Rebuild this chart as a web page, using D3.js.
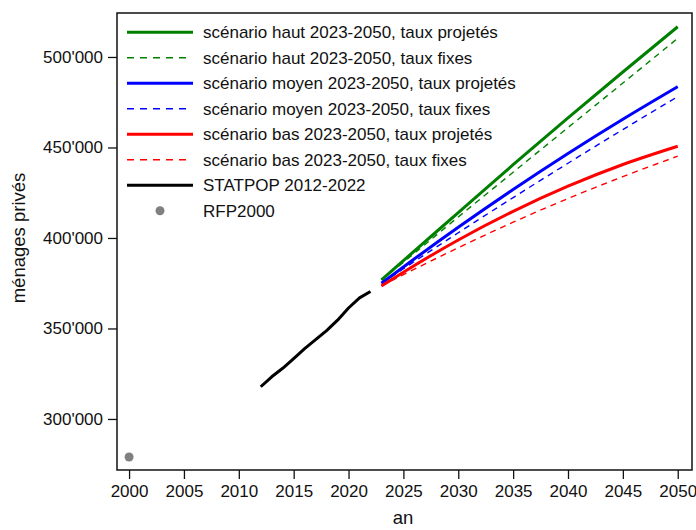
<!DOCTYPE html>
<html lang="fr">
<head>
  <meta charset="UTF-8">
  <title>ménages privés</title>
  <script src="https://d3js.org/d3.v7.min.js"></script>
  <style>
    body { margin: 0; background: #fff; }
    text { font-family: "Liberation Sans", Arial, sans-serif; fill: #111; }
  </style>
</head>
<body>
  <div id="root"></div>
  <script>
    // données
    const statpopYears = [2012, 2013, 2014, 2015, 2016, 2017, 2018, 2019, 2020, 2021, 2022]
    const statpop = [317800, 323300, 328000, 333400, 338900, 343800, 348800, 354600, 361300, 366900, 370400]

    const projYears = [2023, 2025, 2030, 2035, 2040, 2045, 2050]
    const hautProj  = [376800, 387500, 414000, 440500, 466300, 491700, 516700]
    const hautFixe  = [376800, 386600, 411600, 436300, 461000, 485600, 510300]
    const moyenProj = [375000, 384000, 405900, 426800, 446700, 465600, 483600]
    const moyenFixe = [375000, 383000, 402900, 422300, 441300, 459900, 478100]
    const basProj   = [373500, 381100, 398900, 414700, 428600, 440600, 450700]
    const basFixe   = [373500, 379700, 394600, 408700, 421800, 433900, 445200]

    const rfpYear = 2000
    const rfp = 279000

    const xTicks = [2000, 2005, 2010, 2015, 2020, 2025, 2030, 2035, 2040, 2045, 2050]
    const yTicks = [300000, 350000, 400000, 450000, 500000]

    const series = [
      { name: 'scénario haut 2023-2050, taux projetés', values: hautProj, color: '#008000', dash: false },
      { name: 'scénario haut 2023-2050, taux fixes', values: hautFixe, color: '#008000', dash: true },
      { name: 'scénario moyen 2023-2050, taux projetés', values: moyenProj, color: '#0000ff', dash: false },
      { name: 'scénario moyen 2023-2050, taux fixes', values: moyenFixe, color: '#0000ff', dash: true },
      { name: 'scénario bas 2023-2050, taux projetés', values: basProj, color: '#ff0000', dash: false },
      { name: 'scénario bas 2023-2050, taux fixes', values: basFixe, color: '#ff0000', dash: true }
    ]

    const W = 696, H = 530
    const mLeft = 117, mRight = 692, mTop = 13, mBottom = 470

    const svg = d3.select('#root')
      .append('svg')
      .attr('width', W)
      .attr('height', H)

    const x = d3.scaleLinear().domain([1998.9, 2051.3]).range([mLeft, mRight])
    const y = d3.scaleLinear().domain([271800, 524300]).range([mBottom, mTop])

    const fmt = v => d3.format(',')(v).replace(/,/g, "'")

    // axes
    const xAxis = svg.append('g')
      .attr('transform', `translate(0,${mBottom})`)
      .call(d3.axisBottom(x).tickValues(xTicks).tickSize(9).tickPadding(6).tickFormat(d3.format('d')))
    const yAxis = svg.append('g')
      .attr('transform', `translate(${mLeft},0)`)
      .call(d3.axisLeft(y).tickValues(yTicks).tickSize(9).tickPadding(5).tickFormat(fmt))

    ;[xAxis, yAxis].forEach(g => {
      g.select('.domain').remove()
      g.selectAll('line').attr('stroke', '#111').attr('stroke-width', 1.3)
      g.selectAll('text').style('font-size', '17px').attr('fill', '#111')
    })

    // cadre
    svg.append('rect')
      .attr('x', mLeft).attr('y', mTop)
      .attr('width', mRight - mLeft).attr('height', mBottom - mTop)
      .attr('fill', 'none').attr('stroke', '#111').attr('stroke-width', 1.5)

    // titres des axes
    svg.append('text')
      .attr('x', 403).attr('y', 524)
      .attr('text-anchor', 'middle')
      .style('font-size', '18.5px')
      .text('an')
    svg.append('text')
      .attr('transform', 'translate(25,238) rotate(-90)')
      .attr('text-anchor', 'middle')
      .style('font-size', '18.5px')
      .text('ménages privés')

    // courbes
    const smooth = d3.line()
      .x(d => x(d[0]))
      .y(d => y(d[1]))
      .curve(d3.curveMonotoneX)
    const straight = d3.line()
      .x(d => x(d[0]))
      .y(d => y(d[1]))

    svg.append('path')
      .datum(statpopYears.map((yr, i) => [yr, statpop[i]]))
      .attr('d', straight)
      .attr('fill', 'none')
      .attr('stroke', '#000')
      .attr('stroke-width', 3)
      .attr('stroke-linejoin', 'round')

    // fixes d'abord, projetés par-dessus
    const order = [1, 3, 5, 0, 2, 4]
    order.forEach(k => {
      const s = series[k]
      svg.append('path')
        .datum(projYears.map((yr, i) => [yr, s.values[i]]))
        .attr('d', smooth)
        .attr('fill', 'none')
        .attr('stroke', s.color)
        .attr('stroke-width', s.dash ? 1.4 : 3)
        .attr('stroke-dasharray', s.dash ? '6,5' : null)
    })

    svg.append('circle')
      .attr('cx', x(rfpYear)).attr('cy', y(rfp))
      .attr('r', 4.5)
      .attr('fill', '#808080')

    // légende
    const legendItems = series.map(s => ({ name: s.name, color: s.color, type: s.dash ? 'dash' : 'line' }))
      .concat([
        { name: 'STATPOP 2012-2022', color: '#000', type: 'line' },
        { name: 'RFP2000', color: '#808080', type: 'point' }
      ])

    const leg = svg.append('g')
    legendItems.forEach((d, i) => {
      const ly = 32.3 + i * 25.5
      const g = leg.append('g').attr('transform', `translate(0,${ly})`)
      if (d.type === 'point') {
        g.append('circle').attr('cx', 160).attr('cy', 0).attr('r', 4.5).attr('fill', d.color)
      } else {
        g.append('line')
          .attr('x1', 127).attr('x2', d.type === 'dash' ? 187 : 193)
          .attr('stroke', d.color)
          .attr('stroke-width', d.type === 'dash' ? 1.4 : 3)
          .attr('stroke-dasharray', d.type === 'dash' ? '7,6' : null)
      }
      g.append('text')
        .attr('x', 203).attr('y', 0)
        .attr('dy', '0.35em')
        .style('font-size', '17px')
        .text(d.name)
    })
  </script>
</body>
</html>
